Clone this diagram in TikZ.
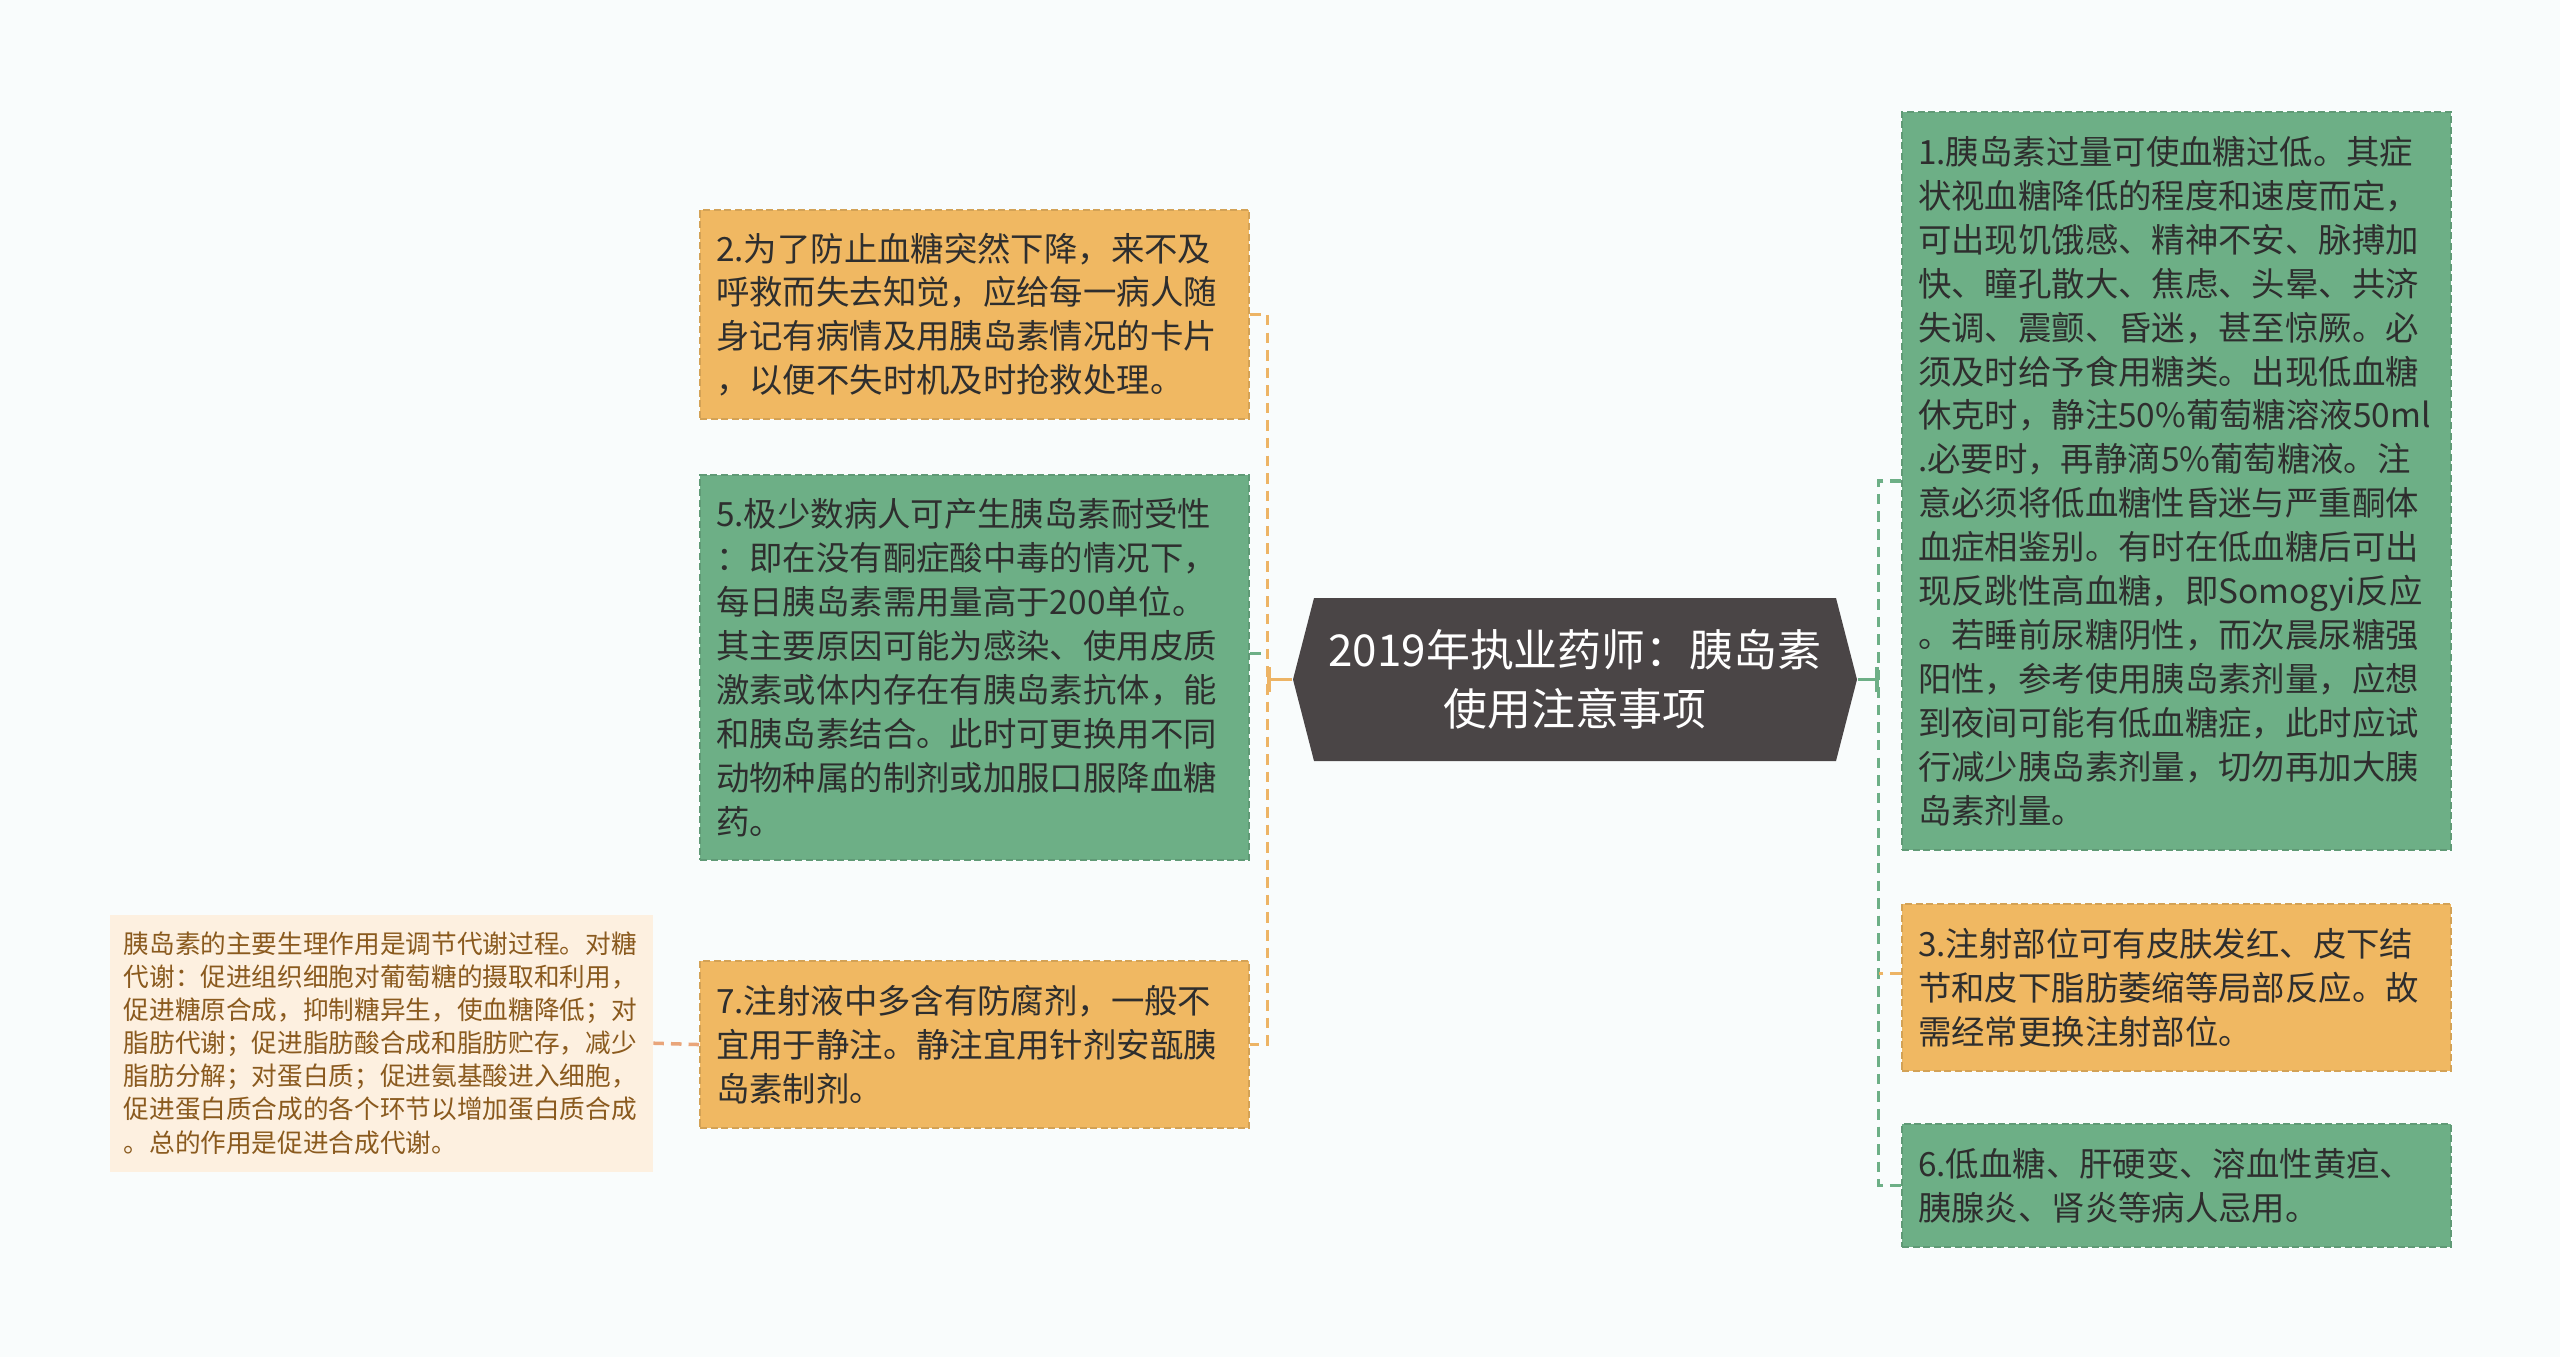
\documentclass[tikz,border=0pt]{standalone}
\usepackage{fontspec}
\setmainfont{Noto Sans CJK SC}
\usetikzlibrary{arrows.meta}
\definecolor{paper}{HTML}{F9FCFC}
\definecolor{tiporange}{HTML}{F0B862}
\definecolor{tipgreen}{HTML}{6DAF86}
\definecolor{topicgray}{HTML}{4A4546}
\definecolor{notefill}{HTML}{FDF0E0}
\definecolor{notetext}{HTML}{8A5A1E}
\definecolor{inktext}{HTML}{2E2E2E}
\definecolor{linkorange}{HTML}{EDB465}
\definecolor{linksalmon}{HTML}{E9A57A}
\tikzset{
  tipbox/.style={anchor=north west, text width=5.17cm, inner xsep=0.16cm, align=left,
    text=inktext, font=\fontsize{9.5pt}{12.5pt}\selectfont, line width=0.6pt, dash pattern=on 2pt off 1pt},
  orangetip/.style={tipbox, fill=tiporange, draw=tiporange!88!black},
  greentip/.style={tipbox, fill=tipgreen, draw=tipgreen!88!black},
  topic/.style={minimum width=5.64cm, minimum height=1.63cm, inner sep=0pt, text=white,
    align=center, font=\fontsize{12.5pt}{16.8pt}\selectfont,
    path picture={\fill[topicgray] (path picture bounding box.west)
      -- ([xshift=0.21cm]path picture bounding box.north west)
      -- ([xshift=-0.21cm]path picture bounding box.north east)
      -- (path picture bounding box.east)
      -- ([xshift=-0.21cm]path picture bounding box.south east)
      -- ([xshift=0.21cm]path picture bounding box.south west) -- cycle;}},
  link/.style={line width=1pt, dash pattern=on 3pt off 2pt},
  joint/.style={line width=1pt, -{Bar[width=7pt]}},
}
\begin{document}
\begin{tikzpicture}
\fill[paper] (0,0) rectangle (25.6,-13.57);
% centre
\node[topic] (topic) at (15.75,-6.795) {2019年执业药师：胰岛素\\使用注意事项};
% left branch
\node[orangetip, minimum height=2.09cm] (tip2) at (6.99,-2.09) {2.为了防止血糖突然下降，来不及\\呼救而失去知觉，应给每一病人随\\身记有病情及用胰岛素情况的卡片\\，以便不失时机及时抢救处理。};
\node[greentip, minimum height=3.85cm] (tip5) at (6.99,-4.74) {5.极少数病人可产生胰岛素耐受性\\：即在没有酮症酸中毒的情况下，\\每日胰岛素需用量高于200单位。\\其主要原因可能为感染、使用皮质\\激素或体内存在有胰岛素抗体，能\\和胰岛素结合。此时可更换用不同\\动物种属的制剂或加服口服降血糖\\药。};
\node[orangetip, minimum height=1.67cm] (tip7) at (6.99,-9.60) {7.注射液中多含有防腐剂，一般不\\宜用于静注。静注宜用针剂安瓿胰\\岛素制剂。};
\node[anchor=north west, minimum height=2.57cm, text width=5.15cm, inner xsep=0.14cm, align=left,
  fill=notefill, text=notetext, font=\fontsize{7.3pt}{9.4pt}\selectfont] (note) at (1.09,-9.14)
  {胰岛素的主要生理作用是调节代谢过程。对糖\\代谢：促进组织细胞对葡萄糖的摄取和利用，\\促进糖原合成，抑制糖异生，使血糖降低；对\\脂肪代谢；促进脂肪酸合成和脂肪贮存，减少\\脂肪分解；对蛋白质；促进氨基酸进入细胞，\\促进蛋白质合成的各个环节以增加蛋白质合成\\。总的作用是促进合成代谢。};
% right branch
\node[greentip, minimum height=7.38cm] (tip1) at (19.01,-1.11) {1.胰岛素过量可使血糖过低。其症\\状视血糖降低的程度和速度而定，\\可出现饥饿感、精神不安、脉搏加\\快、瞳孔散大、焦虑、头晕、共济\\失调、震颤、昏迷，甚至惊厥。必\\须及时给予食用糖类。出现低血糖\\休克时，静注50\%葡萄糖溶液50ml\\.必要时，再静滴5\%葡萄糖液。注\\意必须将低血糖性昏迷与严重酮体\\血症相鉴别。有时在低血糖后可出\\现反跳性高血糖，即Somogyi反应\\。若睡前尿糖阴性，而次晨尿糖强\\阳性，参考使用胰岛素剂量，应想\\到夜间可能有低血糖症，此时应试\\行减少胰岛素剂量，切勿再加大胰\\岛素剂量。};
\node[orangetip, minimum height=1.67cm] (tip3) at (19.01,-9.03) {3.注射部位可有皮肤发红、皮下结\\节和皮下脂肪萎缩等局部反应。故\\需经常更换注射部位。};
\node[greentip, minimum height=1.23cm] (tip6) at (19.01,-11.23) {6.低血糖、肝硬变、溶血性黄疸、\\胰腺炎、肾炎等病人忌用。};
% connectors
\coordinate (ljoin) at ([xshift=-0.25cm]topic.west);
\coordinate (rjoin) at ([xshift=0.21cm]topic.east);
\draw[joint, linkorange] (topic.west) -- (ljoin);
\draw[link, linkorange] (tip2.east) -- (tip2.east -| ljoin) -- (tip7.east -| ljoin) -- (tip7.east);
\draw[link, tipgreen] ([yshift=1.4mm]tip5.east) -- ([yshift=1.4mm]tip5.east -| ljoin);
\draw[joint, tipgreen] (topic.east) -- (rjoin);
\draw[link, tipgreen] (tip1.west) -- (tip1.west -| rjoin) -- (tip6.west -| rjoin) -- (tip6.west);
\draw[link, linkorange] ([yshift=1.4mm]tip3.west) -- ([yshift=1.4mm]tip3.west -| rjoin);
\draw[link, linksalmon] (note.east) -- (tip7.west);
\end{tikzpicture}
\end{document}
